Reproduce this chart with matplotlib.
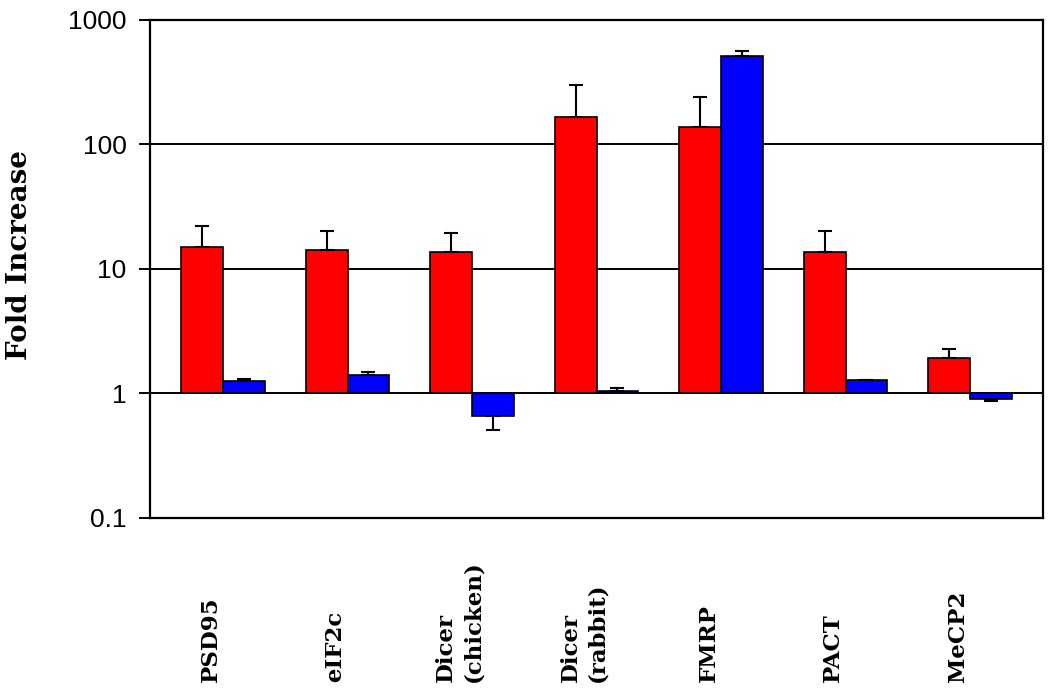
import numpy as np
import matplotlib
matplotlib.use("Agg")
import matplotlib.pyplot as plt
from matplotlib.ticker import NullLocator

# values (fold increase, log scale)
labels = ["PSD95", "eIF2c", "Dicer\n(chicken)", "Dicer\n(rabbit)", "FMRP", "PACT", "MeCP2"]
red_vals = [15.0, 14.2, 13.6, 165, 138, 13.6, 1.91]
red_err_end = [22.0, 20.3, 19.3, 302, 242, 20.2, 2.28]
blue_vals = [1.25, 1.42, 0.66, 1.05, 511, 1.29, 0.90]
blue_err_end = [1.30, 1.48, 0.51, 1.10, 562, 1.29, 0.87]
yticks = [0.1, 1, 10, 100, 1000]
ytick_labels = ["0.1", "1", "10", "100", "1000"]

serif = ["DejaVu Serif"]
sans = ["Liberation Sans", "DejaVu Sans"]

fig = plt.figure(figsize=(10.5, 6.89), dpi=100)
ax = fig.add_axes([0.1429, 0.2482, 0.8505, 0.7228])

x = np.arange(len(labels))
w = 0.335


def err_arrays(vals, ends):
    vals = np.array(vals, dtype=float)
    ends = np.array(ends, dtype=float)
    lower = np.clip(vals - ends, 0, None)
    upper = np.clip(ends - vals, 0, None)
    return [lower, upper]


for offs, vals, ends, col in [(-w / 2, red_vals, red_err_end, "#ff0000"),
                              (w / 2, blue_vals, blue_err_end, "#0000ff")]:
    heights = np.array(vals) - 1.0
    ax.bar(x + offs, heights, width=w, bottom=1.0, color=col,
           edgecolor="black", linewidth=1.2, zorder=2)
    ax.errorbar(x + offs, vals, yerr=err_arrays(vals, ends), fmt="none",
                ecolor="black", elinewidth=1.5, capsize=4.7, capthick=1.5, zorder=3)

ax.set_yscale("log")
ax.set_ylim(0.1, 1000)
ax.set_xlim(-0.586, 6.586)
ax.set_yticks(yticks)
ax.set_yticklabels(ytick_labels, family=sans, fontsize=19)
ax.yaxis.set_minor_locator(NullLocator())
ax.tick_params(axis="y", direction="out", length=8, width=1.4, pad=9, colors="black")
ax.set_xticks([])

ax.yaxis.grid(True, color="black", linewidth=1.4)
ax.set_axisbelow(True)
for sp in ax.spines.values():
    sp.set_color("black")
    sp.set_linewidth(1.6)

# category labels, rotated and bottom aligned
for xi, lab in zip(x, labels):
    ax.text(xi - 0.1, -0.329, lab, transform=ax.get_xaxis_transform(),
            rotation=90, ha="center", va="bottom", multialignment="left",
            family=serif, fontweight="bold", fontsize=16.5, linespacing=1.3)

fig.text(20 / 1050, 1 - 255 / 689, "Fold Increase", rotation=90, ha="center",
         va="center", family=serif, fontweight="bold", fontsize=20)

fig.savefig("out.png", dpi=100, facecolor="white")
